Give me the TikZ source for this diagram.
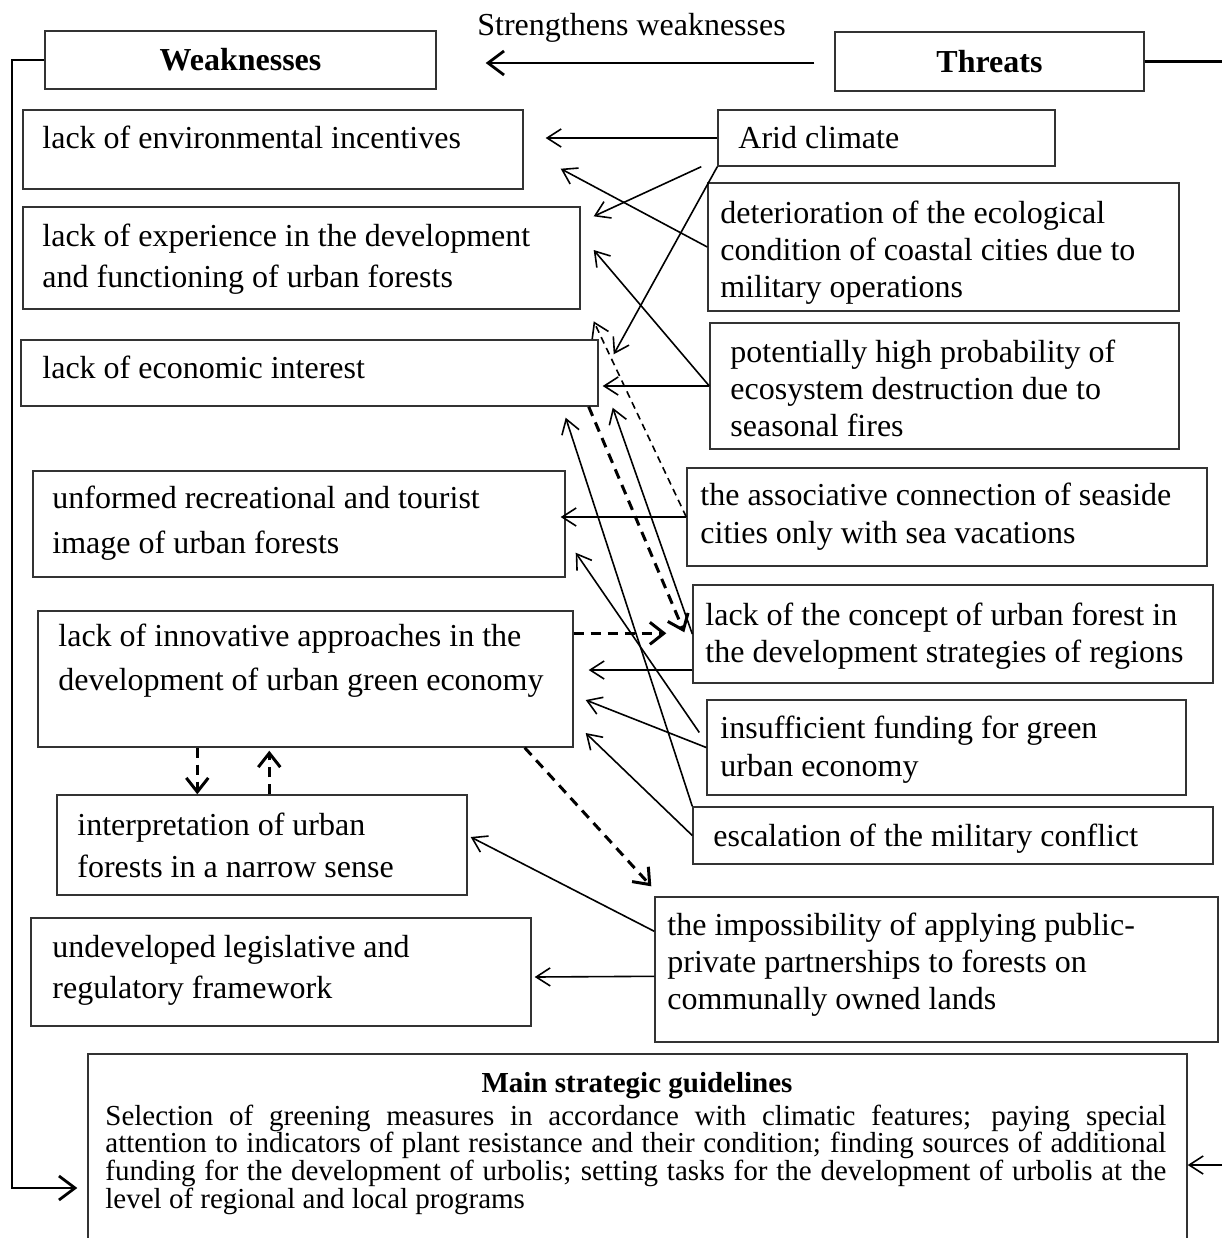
\documentclass[tikz,border=0pt]{standalone}
\usepackage{fontspec}
\setmainfont{Liberation Serif}
\usetikzlibrary{arrows.meta,fit,calc}

% stacked left-aligned lines with a given baseline distance;
% the block's baseline is that of its first line
\newcommand{\textlines}[2]{\vtop{\baselineskip=#1\relax\lineskiplimit=-20pt
  \halign{##\hfil\cr#2\crcr}}}

\tikzset{
  box/.style={draw=black!80, line width=0.7pt, inner sep=0pt, fit={#1}},
  txt/.style={anchor=base west, inner sep=0pt, font=\fontsize{16}{19}\selectfont},
  headtxt/.style={inner sep=0pt, font=\fontsize{16}{19}\selectfont\bfseries},
  link/.style={line width=0.8pt, -{Straight Barb[length=7pt,width=9pt]}},
  thinlink/.style={link, dash pattern=on 3.5pt off 2.5pt},
  boldlink/.style={line width=1.5pt, dash pattern=on 5pt off 3.5pt,
    -{Straight Barb[length=7pt,width=11pt]}},
  rail/.style={line width=1.4pt},
  railarrow/.style={rail, -{Straight Barb[length=8pt,width=12pt]}},
}

\begin{document}
\begin{tikzpicture}[x=0.5pt,y=-0.5pt]
\useasboundingbox (0,0) rectangle (1222,1238);
\clip (0,0) rectangle (1222,1238);

% --- headers ---
\node[box={(45,31) (436,89)}] (wk) {};
\node[headtxt] (wkt) at (wk.center) {Weaknesses};
\node[box={(835,32) (1144,91)}] (th) {};
\node[headtxt] (tht) at (th.center) {Threats};
\node[txt] (lbl) at (477,35) {Strengthens weaknesses};

% --- weaknesses ---
\node[box={(23,110) (523,189)}] (w1) {};
\node[txt] (w1t) at (42,148) {lack of environmental incentives};
\node[box={(23,207) (580,309)}] (w2) {};
\node[txt] (w2t) at (42,246) {\textlines{20.5pt}{lack of experience in the development\cr
  and functioning of urban forests}};
\node[box={(21,340) (598,406)}] (w3) {};
\node[txt] (w3t) at (42,378) {lack of economic interest};
\node[box={(33,471) (565,577)}] (w4) {};
\node[txt] (w4t) at (52,508) {\textlines{22.5pt}{unformed recreational and tourist\cr
  image of urban forests}};
\node[box={(38,611) (573,747)}] (w5) {};
\node[txt] (w5t) at (58,646) {\textlines{22pt}{lack of innovative approaches in the\cr
  development of urban green economy}};
\node[box={(57,795) (467,895)}] (w6) {};
\node[txt] (w6t) at (77,835) {\textlines{21pt}{interpretation of urban\cr
  forests in a narrow sense}};
\node[box={(31,918) (531,1026)}] (w7) {};
\node[txt] (w7t) at (52,957) {\textlines{20.5pt}{undeveloped legislative and\cr
  regulatory framework}};

% --- threats ---
\node[box={(718,110) (1055,166)}] (t1) {};
\node[txt] (t1t) at (738,148) {Arid climate};
\node[box={(708,183) (1179,311)}] (t2) {};
\node[txt] (t2t) at (720,223) {\textlines{18.5pt}{deterioration of the ecological\cr
  condition of coastal cities due to\cr military operations}};
\node[box={(710,323) (1179,449)}] (t3) {};
\node[txt] (t3t) at (730,362) {\textlines{18.5pt}{potentially high probability of\cr
  ecosystem destruction due to\cr seasonal fires}};
\node[box={(687,468) (1207,566)}] (t4) {};
\node[txt] (t4t) at (700,505) {\textlines{19pt}{the associative connection of seaside\cr
  cities only with sea vacations}};
\node[box={(693,585) (1213,683)}] (t5) {};
\node[txt] (t5t) at (705,625) {\textlines{18.5pt}{lack of the concept of urban forest in\cr
  the development strategies of regions}};
\node[box={(707,700) (1186,795)}] (t6) {};
\node[txt] (t6t) at (720,738) {\textlines{19pt}{insufficient funding for green\cr
  urban economy}};
\node[box={(693,807) (1213,864)}] (t7) {};
\node[txt] (t7t) at (713,846) {escalation of the military conflict};
\node[box={(655,897) (1218,1042)}] (t8) {};
\node[txt] (t8t) at (667,935) {\textlines{18.5pt}{the impossibility of applying public-\cr
  private partnerships to forests on\cr communally owned lands}};

% --- guidelines ---
\node[box={(88,1054) (1187,1300)}] (gl) {};
\node[inner sep=0pt, anchor=base, font=\fontsize{14.5}{17}\selectfont\bfseries] (glt) at (637,1092) {Main strategic guidelines};
\node[txt, font=\fontsize{14.5}{14}\selectfont] (glb) at (105,1125)
  {\vtop{\baselineskip=13.85pt\relax
   \hbox to 530.5pt{Selection of greening measures in accordance with climatic features; paying special}
   \hbox to 530.5pt{attention to indicators of plant resistance and their condition; finding sources of additional}
   \hbox to 530.5pt{funding for the development of urbolis; setting tasks for the development of urbolis at the}
   \hbox{level of regional and local programs}}};

% --- outer rails ---
\coordinate (railtop) at (12,60);
\coordinate (railfoot) at (12,1188);
\coordinate (rightend) at (1222,61.5);
\coordinate (rightin) at (1222,1165);
\draw[railarrow] (wk.west) -- (railtop) -- (railfoot) -- ($(gl.west |- railfoot)+(-10,0)$);
\draw[rail] (th.east) -- (rightend);
\draw[link] (rightin) -- (gl.east |- rightin);
\draw[railarrow] ($(th.west)+(-20,1.5)$) -- ($(wk.east)+(49,3)$);

% --- threat to weakness links ---
\draw[link] (t1.west) -- ($(t1.west -| w1.east)+(22,0)$);
\draw[link] ($(t1.south west)+(-16,0)$) -- ($(w2.north east)+(13,10)$);
\draw[link] (t1.south west) -- ($(w3.north east)+(15,15)$);
\draw[link] (t2.west) -- ($(w1.south east)+(37,-21)$);
\draw[link] (t3.west) -- ($(w2.east)+(13,-8)$);
\draw[link] (t3.west) -- ($(t3.west -| w3.east)+(4,0)$);
\draw[thinlink] (t4.west) -- ($(w3.north east)+(-5,-18)$);
\draw[link] (t4.west) -- ($(t4.west -| w4.east)+(-5,0)$);
\draw[link] (t5.west) -- ($(w3.south east)+(14,1)$);
\draw[link] (t7.north west) -- ($(w3.south east)+(-33,11)$);
\draw[link] ($(t6.west)+(-7,-15)$) -- ($(w4.south east)+(10,-25)$);
\draw[link] ($(t5.west)+(0,36)$) -- ($(w5.east)+(15,-9)$);
\draw[link] (t6.west) -- ($(w5.east)+(12,21)$);
\draw[link] (t7.west) -- ($(w5.east)+(12,54)$);
\draw[link] ($(t8.north west)+(0,35)$) -- ($(w6.east)+(3,-8)$);
\draw[link] ($(t8.north west)+(0,80)$) -- ($(w7.east)+(3,5)$);

% --- weakness to threat / weakness links ---
\draw[boldlink] ($(w3.south east)+(-10,0)$) -- ($(t5.north west)+(-8,48)$);
\draw[boldlink] ($(w5.north east)+(0,23)$) -- ($(t5.north west)+(-26,49)$);
\draw[boldlink] ($(w5.south east)+(-49,0)$) -- ($(t8.north west)+(-3,-10)$);
\draw[boldlink] ($(w5.south west)+(160,0)$) -- ($(w6.north west)+(141,0)$);
\draw[boldlink] ($(w6.north west)+(213,0)$) -- ($(w5.south west)+(232,3)$);
\end{tikzpicture}
\end{document}
